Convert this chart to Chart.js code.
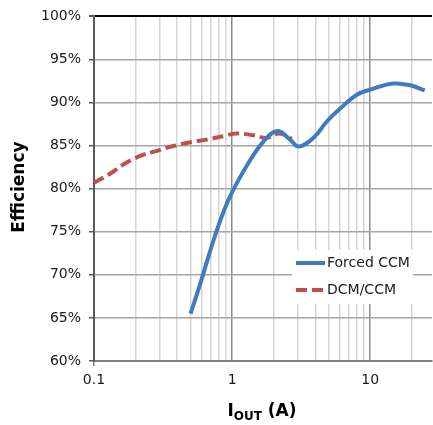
<!DOCTYPE html>
<html>
<head>
<meta charset="utf-8">
<script src="https://cdn.jsdelivr.net/npm/chart.js@4"></script>
<style>
  html, body { margin: 0; padding: 0; background: #fff; }
  #wrap { width: 433px; height: 425px; }
</style>
</head>
<body>
<div id="wrap"><canvas id="chart" width="433" height="425"></canvas></div>
<script>
// Forced CCM curve (I_OUT in A, efficiency in %)
const forcedIout = [0.5, 0.586, 0.73, 0.865, 1.0, 1.28, 1.69, 2.13, 2.63, 3.02, 3.88, 4.85, 6.06, 8.0, 10, 14.7, 19.5, 24.8];
const forcedEff  = [65.5, 68.9, 73.9, 77.3, 79.6, 82.7, 85.5, 86.7, 85.7, 84.9, 85.9, 87.8, 89.3, 90.9, 91.5, 92.2, 92.0, 91.4];

// DCM/CCM curve
const dcmIout = [0.1, 0.13, 0.163, 0.216, 0.285, 0.376, 0.5, 0.656, 0.865, 1.07, 1.43, 1.78, 2.2, 2.71];
const dcmEff  = [80.7, 81.7, 82.8, 83.8, 84.4, 84.95, 85.4, 85.7, 86.1, 86.4, 86.2, 85.9, 86.4, 85.8];

// axis ticks
const xTicks = [0.1, 0.2, 0.3, 0.4, 0.5, 0.6, 0.7, 0.8, 0.9, 1, 2, 3, 4, 5, 6, 7, 8, 9, 10, 20];
const xLabels = [0.1, 1, 10];
const yMin = 60, yMax = 100, yStep = 5;

const toPoints = (xs, ys) => xs.map((x, i) => ({ x: x, y: ys[i] }));

// draws the legend box inside the plot, like the original
const legendBox = {
  id: 'legendBox',
  afterDraw(chart) {
    const ctx = chart.ctx;
    const sets = chart.data.datasets;
    ctx.save();
    ctx.fillStyle = '#fff';
    ctx.fillRect(292, 250, 121, 54);
    sets.forEach((ds, i) => {
      const y = 263 + i * 27;
      ctx.beginPath();
      ctx.strokeStyle = ds.borderColor;
      ctx.lineWidth = 4;
      ctx.setLineDash(ds.borderDash || []);
      ctx.moveTo(296, y);
      ctx.lineTo(325, y);
      ctx.stroke();
      ctx.setLineDash([]);
      ctx.fillStyle = '#1a1a1a';
      ctx.font = '14px "DejaVu Sans"';
      ctx.textBaseline = 'middle';
      ctx.textAlign = 'left';
      ctx.fillText(ds.label, 327, y);
    });
    ctx.restore();
  }
};

// axis titles (x title needs a subscript)
const axisTitles = {
  id: 'axisTitles',
  afterDraw(chart) {
    const ctx = chart.ctx;
    ctx.save();
    ctx.fillStyle = '#000';
    ctx.textBaseline = 'alphabetic';
    // y title
    ctx.translate(24, 187);
    ctx.rotate(-Math.PI / 2);
    ctx.font = 'bold 17px "DejaVu Sans"';
    ctx.textAlign = 'center';
    ctx.fillText('Efficiency', 0, 0);
    ctx.setTransform(1, 0, 0, 1, 0, 0);
    // x title
    const big = 'bold 17px "DejaVu Sans"';
    const small = 'bold 12px "DejaVu Sans"';
    ctx.font = big;
    const w1 = ctx.measureText('I').width;
    const w3 = ctx.measureText(' (A)').width;
    ctx.font = small;
    const w2 = ctx.measureText('OUT').width;
    let x = 262 - (w1 + w2 + w3) / 2;
    const base = 416;
    ctx.textAlign = 'left';
    ctx.font = big;
    ctx.fillText('I', x, base);
    x += w1;
    ctx.font = small;
    ctx.fillText('OUT', x, base + 4);
    x += w2;
    ctx.font = big;
    ctx.fillText(' (A)', x, base);
    ctx.restore();
  }
};

new Chart(document.getElementById('chart'), {
  type: 'line',
  data: {
    datasets: [
      {
        label: 'Forced CCM',
        data: toPoints(forcedIout, forcedEff),
        borderColor: '#3f7cbf',
        borderWidth: 4,
        pointRadius: 0,
        tension: 0.4,
        fill: false
      },
      {
        label: 'DCM/CCM',
        data: toPoints(dcmIout, dcmEff),
        borderColor: '#c0504d',
        borderWidth: 4,
        borderDash: [11, 5],
        pointRadius: 0,
        tension: 0.4,
        fill: false
      }
    ]
  },
  plugins: [legendBox, axisTitles],
  options: {
    responsive: false,
    animation: false,
    layout: { padding: { top: 12, right: 1, left: 0, bottom: 0 } },
    plugins: {
      legend: { display: false },
      tooltip: { enabled: false }
    },
    scales: {
      x: {
        type: 'logarithmic',
        min: 0.1,
        max: 28,
        afterBuildTicks: (scale) => {
          scale.ticks = xTicks.map(v => ({ value: v }));
        },
        afterFit: (scale) => { scale.height = 64; },
        ticks: {
          autoSkip: false,
          maxRotation: 0,
          padding: 6,
          color: '#1a1a1a',
          font: { family: 'DejaVu Sans', size: 14 },
          callback: (v) => xLabels.includes(v) ? String(v) : ''
        },
        grid: {
          color: (c) => xLabels.includes(c.tick && c.tick.value) ? '#8c8c8c' : '#d6d6d6',
          lineWidth: (c) => xLabels.includes(c.tick && c.tick.value) ? 1.5 : 1.5,
          tickLength: 5,
          tickColor: (c) => (c.tick && c.tick.value === 0.1) ? '#7f7f7f' : 'rgba(0,0,0,0)'
        },
        border: { color: '#7f7f7f', width: 2 }
      },
      y: {
        min: yMin,
        max: yMax,
        afterFit: (scale) => { scale.width = 94; },
        ticks: {
          stepSize: yStep,
          padding: 8,
          color: '#1a1a1a',
          font: { family: 'DejaVu Sans', size: 14 },
          callback: (v) => v + '%'
        },
        grid: {
          color: (c) => c.tick && c.tick.value === yMax ? '#000' : '#a6a6a6',
          lineWidth: (c) => c.tick && c.tick.value === yMax ? 2 : 1.5,
          tickLength: 5,
          tickColor: '#595959'
        },
        border: { color: '#595959', width: 2 }
      }
    }
  }
});
</script>
</body>
</html>
